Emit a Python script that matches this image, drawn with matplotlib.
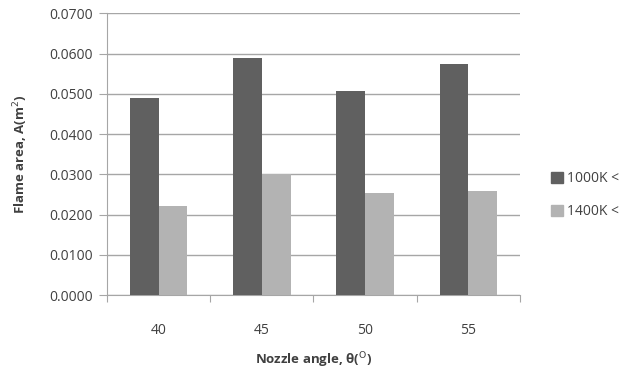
import numpy as np
import matplotlib.pyplot as plt
from matplotlib.patches import Patch

angles = ['40', '45', '50', '55']
area_1000 = [0.0490, 0.0588, 0.0508, 0.0574]
area_1400 = [0.0222, 0.0301, 0.0253, 0.0258]
legend_labels = ['1000K <', '1400K <']

dark = '#606060'
light = '#b3b3b3'
grid_col = '#a6a6a6'
txt = '#404040'

plt.rcParams['font.family'] = ['Open Sans', 'DejaVu Sans']

fig = plt.figure(figsize=(6.23, 3.69), dpi=100)
ax = fig.add_axes([0.1717, 0.2005, 0.663, 0.7634])

x = np.arange(len(angles)) + 0.5
w = 0.278
ax.bar(x - w/2, area_1000, w, color=dark, zorder=3)
ax.bar(x + w/2, area_1400, w, color=light, zorder=3)

ax.set_xlim(0, len(angles))
ax.set_ylim(0, 0.07)
ax.set_yticks(np.arange(0, 0.0701, 0.01))
ax.set_yticklabels(['%.4f' % v for v in np.arange(0, 0.0701, 0.01)])
ax.set_xticks(np.arange(0, len(angles) + 1))
ax.set_xticklabels([])
ax.set_xticks(x, minor=True)
ax.set_xticklabels(angles, minor=True)
ax.tick_params(axis='x', which='minor', length=0, pad=20, labelsize=10, labelcolor=txt)
ax.tick_params(axis='x', which='major', length=5, color=grid_col, direction='out')
ax.tick_params(axis='y', length=6, color=grid_col, labelsize=10, labelcolor=txt, pad=4)

ax.grid(axis='y', color=grid_col, linewidth=1, zorder=0)
for s in ['top', 'right']:
    ax.spines[s].set_visible(False)
for s in ['left', 'bottom']:
    ax.spines[s].set_color(grid_col)

ax.set_ylabel('Flame area, A(m$^2$)', fontsize=9.5, fontweight='bold', color=txt, labelpad=14)
ax.set_xlabel('Nozzle angle, θ($^{\\mathrm{O}}$)', fontsize=9.5, fontweight='bold', color=txt, labelpad=9)

handles = [Patch(color=dark), Patch(color=light)]
fig.legend(handles, legend_labels, loc='upper left', bbox_to_anchor=(0.865, 0.57),
           frameon=False, fontsize=10, labelspacing=1.3, handlelength=0.8, handleheight=0.8,
           handletextpad=0.3, labelcolor=txt)

fig.savefig('out.png', dpi=100)
